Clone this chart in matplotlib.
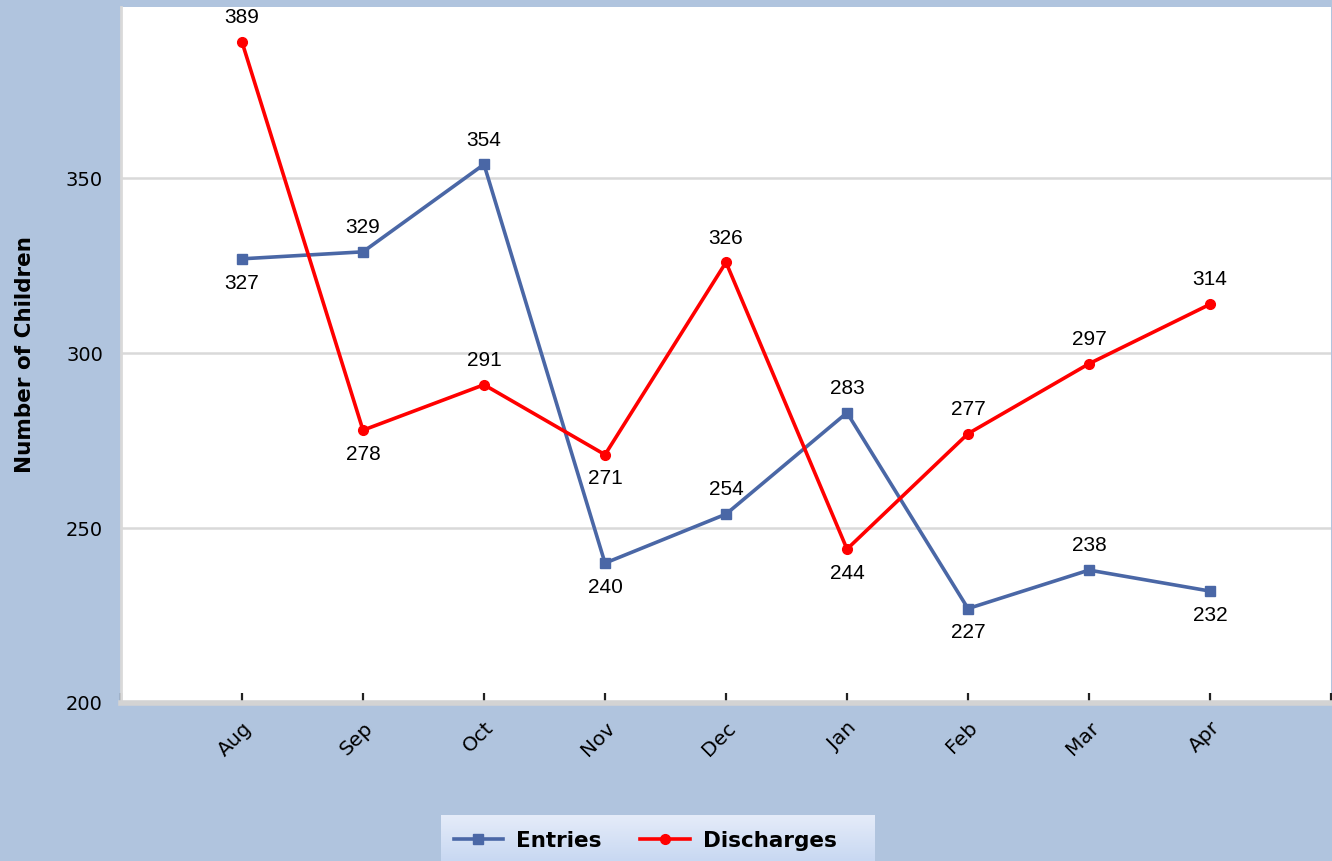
import numpy as np
import matplotlib
matplotlib.use("Agg")
import matplotlib.pyplot as plt

months = ["Aug", "Sep", "Oct", "Nov", "Dec", "Jan", "Feb", "Mar", "Apr"]
entries = [327, 329, 354, 240, 254, 283, 227, 238, 232]
discharges = [389, 278, 291, 271, 326, 244, 277, 297, 314]
# label placement: +1 above the point, -1 below
entries_pos = [-1, 1, 1, -1, 1, 1, -1, 1, -1]
discharges_pos = [1, -1, 1, -1, 1, -1, 1, 1, 1]

BG = "#b0c4de"
BLUE = "#4a67a6"
RED = "#ff0000"

fig = plt.figure(figsize=(13.32, 8.61), dpi=100)
fig.patch.set_facecolor(BG)
ax = fig.add_axes([121 / 1332, 1 - 703 / 861, 1210 / 1332, 696 / 861])
ax.set_facecolor("white")

x = np.arange(len(months))
ax.plot(x, entries, color=BLUE, lw=2.6, marker="s", ms=7, label="Entries", zorder=3)
ax.plot(x, discharges, color=RED, lw=2.6, marker="o", ms=7, label="Discharges", zorder=3)

for xi, v, p in zip(x, entries, entries_pos):
    ax.annotate(str(v), (xi, v), xytext=(0, 17.5 * p), textcoords="offset points",
                ha="center", va="center", fontsize=15, family="Liberation Sans")
for xi, v, p in zip(x, discharges, discharges_pos):
    ax.annotate(str(v), (xi, v), xytext=(0, 17.5 * p), textcoords="offset points",
                ha="center", va="center", fontsize=15, family="Liberation Sans")

ax.set_xlim(-1, 9)
ax.set_ylim(200, 399)
ax.set_yticks([200, 250, 300, 350])
ax.yaxis.grid(True, color="#d9d9d9", lw=1.8)
ax.set_axisbelow(True)

ax.set_xticks(x)
ax.set_xticklabels(months, rotation=45, ha="right", rotation_mode="anchor",
                   fontsize=14.5, family="DejaVu Sans")
ax.set_xticks([-1, 9], minor=True)
ax.tick_params(axis="x", which="both", direction="in", length=7, width=1.6,
               color="#222222", pad=11)
ax.tick_params(axis="y", length=0, pad=13, labelsize=14)

for s in ["top", "right"]:
    ax.spines[s].set_visible(False)
ax.spines["left"].set_color("#d9d9d9")
ax.spines["left"].set_linewidth(2)
ax.spines["bottom"].set_color("#d3d3d3")
ax.spines["bottom"].set_linewidth(4)

ax.set_ylabel("Number of Children", fontsize=15.5, fontweight="bold", labelpad=22)

# legend box with soft vertical gradient
lax = fig.add_axes([441 / 1332, 0, 434 / 1332, 46 / 861])
grad = np.linspace(0, 1, 100).reshape(-1, 1)
top = np.array([0.898, 0.925, 0.976])
bot = np.array([0.784, 0.847, 0.949])
img = top + (bot - top) * grad[:, :, None]
lax.imshow(img, aspect="auto", extent=[0, 1, 0, 1])
lax.axis("off")

handles, labels = ax.get_legend_handles_labels()
leg = fig.legend(handles, labels, loc="center", bbox_to_anchor=(645 / 1332, 1 - 841 / 861),
                 ncol=2, frameon=False, prop={"weight": "bold", "size": 15.5},
                 handlelength=2.3, columnspacing=1.8, handletextpad=0.6)

fig.savefig("out.png", dpi=100, facecolor=fig.get_facecolor())
